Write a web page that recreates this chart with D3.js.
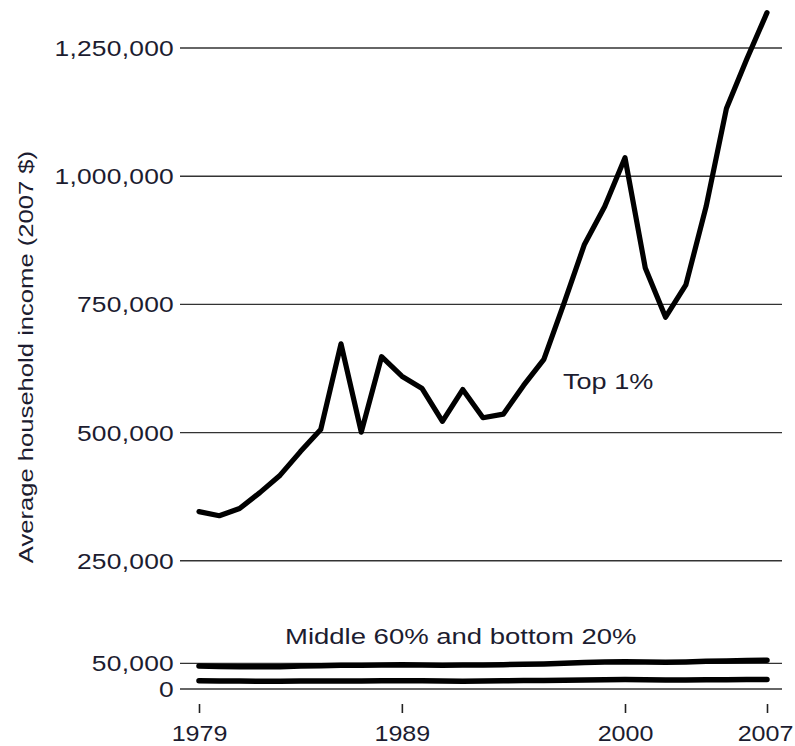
<!DOCTYPE html>
<html>
<head>
<meta charset="utf-8">
<script src="https://cdn.jsdelivr.net/npm/d3@7/dist/d3.min.js"></script>
<style>
  html, body { margin: 0; padding: 0; background: #fff; }
  svg text { font-family: "Liberation Sans", Arial, sans-serif; fill: #1c1c30; }
</style>
</head>
<body>
<svg id="chart" width="795" height="746"></svg>
<script>
const years = d3.range(1979, 2008);
const top1 = [345000, 337000, 351000, 382000, 416000, 462000, 505000, 672000, 500000, 647000,
              609000, 585000, 521000, 583000, 528000, 535000, 591000, 642000, 752000, 866000,
              940000, 1035000, 820000, 724000, 787000, 940000, 1131000, 1227000, 1318000];
const middle60 = [44100, 43000, 42600, 42200, 42500, 43700, 44500, 45500, 45500, 46000,
                  46500, 46000, 45200, 45600, 45800, 46500, 47200, 47800, 49000, 50600,
                  51800, 52300, 51500, 51200, 51800, 53000, 53500, 54500, 55300];
const bottom20 = [15300, 14800, 14400, 14200, 14000, 14400, 14600, 14700, 14800, 14900,
                  15100, 14900, 14600, 14300, 14600, 15000, 15600, 15800, 16000, 16700,
                  17200, 17500, 17200, 16800, 16600, 16900, 17100, 17500, 17700];
const yTicks = [0, 50000, 250000, 500000, 750000, 1000000, 1250000];
const xTicks = [1979, 1989, 2000, 2007];
const yTitle = "Average household income (2007 $)";
const labelTop = "Top 1%";
const labelLow = "Middle 60% and bottom 20%";

const svg = d3.select("#chart");
const x = d3.scaleLinear().domain([1979, 2007]).range([199, 767]);
const y = d3.scaleLinear().domain([0, 1250000]).range([688.5, 47.5]);
const fmt = d3.format(",");
const SX = 1.2;

// y axis: gridlines spanning the plot
const yAxis = d3.axisLeft(y).tickValues(yTicks).tickFormat(fmt)
  .tickSize(-602).tickPadding(7);
const gy = svg.append("g").attr("transform", "translate(180,0)").call(yAxis);
gy.select(".domain").remove();
gy.selectAll(".tick line").attr("stroke", "#333").attr("stroke-width", 1.4);
gy.selectAll(".tick text")
  .attr("x", 0).attr("dy", null)
  .attr("transform", `translate(-6,8) scale(${SX},1)`)
  .style("font-size", "22px").style("letter-spacing", "0.2px")
  .attr("fill", "#1c1c30");

// x axis: ticks only
const xAxis = d3.axisBottom(x).tickValues(xTicks).tickFormat(d3.format("d"))
  .tickSize(9).tickPadding(13);
const gx = svg.append("g").attr("transform", "translate(0,704)").call(xAxis);
gx.select(".domain").remove();
gx.selectAll(".tick line").attr("stroke", "#222").attr("stroke-width", 1.6);
gx.selectAll(".tick text")
  .attr("y", 0).attr("dy", null)
  .attr("transform", d => `translate(${d === 2007 ? -2 : 0},37) scale(1.14,1)`)
  .style("font-size", "22px")
  .attr("fill", "#1c1c30");

// lines
const line = d3.line().x((d, i) => x(years[i])).y(d => y(d));
[[top1, 5.2], [middle60, 5.5], [bottom20, 5.5]].forEach(([data, w]) => {
  svg.append("path").datum(data).attr("d", line)
    .attr("fill", "none").attr("stroke", "#000").attr("stroke-width", w)
    .attr("stroke-linejoin", "round").attr("stroke-linecap", "round");
});

// labels
svg.append("text").attr("transform", "translate(563,389) scale(1.23,1)")
  .style("font-size", "22px").text(labelTop);
svg.append("text").attr("transform", "translate(285,644) scale(1.25,1)")
  .style("font-size", "22px").text(labelLow);

// y title
svg.append("text")
  .attr("transform", "translate(33,357) rotate(-90) scale(1.22,1)")
  .attr("text-anchor", "middle")
  .style("font-size", "21px")
  .text(yTitle);
</script>
</body>
</html>
